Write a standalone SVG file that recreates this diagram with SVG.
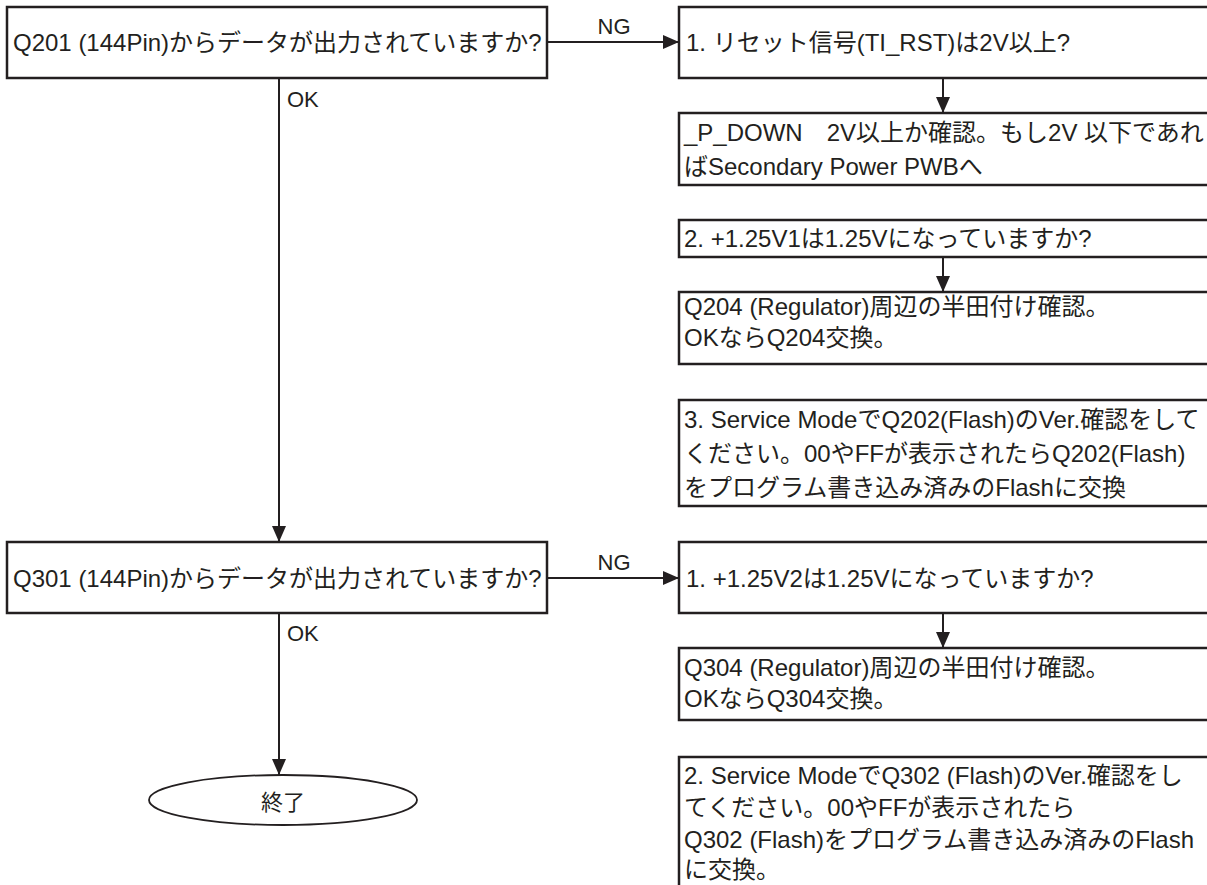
<svg xmlns="http://www.w3.org/2000/svg" width="1207" height="885" viewBox="0 0 1207 885">
<defs>
<style>
.box{fill:#fff;stroke:#231f20;stroke-width:2.5}
.conn{fill:none;stroke:#231f20;stroke-width:2}
.t{font-family:"Liberation Sans","Noto Sans CJK JP",sans-serif;font-size:24px;fill:#231f20}
.lbl{font-family:"Liberation Sans","Noto Sans CJK JP",sans-serif;font-size:22px;fill:#231f20}
.end{fill:#fff;stroke:#231f20;stroke-width:1.8}
</style>
<marker id="ah" markerUnits="userSpaceOnUse" markerWidth="17" markerHeight="15" refX="16" refY="7" orient="auto" viewBox="0 0 17 15">
<path d="M0,0 L16,7 L0,14 z" fill="#231f20"/>
</marker>
</defs>
<rect width="1207" height="885" fill="#fff"/>

<g id="connectors">
<line class="conn" x1="547" y1="42" x2="679" y2="42" marker-end="url(#ah)"/>
<line class="conn" x1="279" y1="78" x2="279" y2="542" marker-end="url(#ah)"/>
<line class="conn" x1="943" y1="78" x2="943" y2="113" marker-end="url(#ah)"/>
<line class="conn" x1="943" y1="257" x2="943" y2="292" marker-end="url(#ah)"/>
<line class="conn" x1="547" y1="578" x2="679" y2="578" marker-end="url(#ah)"/>
<line class="conn" x1="279" y1="613" x2="279" y2="775" marker-end="url(#ah)"/>
<line class="conn" x1="943" y1="613" x2="943" y2="648" marker-end="url(#ah)"/>
<text class="lbl" x="614" y="34" text-anchor="middle">NG</text>
<text class="lbl" x="287" y="107">OK</text>
<text class="lbl" x="614" y="570" text-anchor="middle">NG</text>
<text class="lbl" x="287" y="641">OK</text>
</g>

<g id="q201">
<rect class="box" x="7" y="7" width="540" height="71"/>
<text class="t" x="13" y="51">Q201 (144Pin)からデータが出力されていますか?</text>
</g>

<g id="a1">
<rect class="box" x="679" y="7" width="560" height="71"/>
<text class="t" x="686" y="51">1. リセット信号(TI_RST)は2V以上?</text>
</g>

<g id="a2">
<rect class="box" x="679" y="113" width="560" height="72"/>
<text class="t" x="684" y="141" xml:space="preserve">_P_DOWN　2V以上か確認。もし2V 以下であれ</text>
<text class="t" x="684" y="175">ばSecondary Power PWBへ</text>
</g>

<g id="a3">
<rect class="box" x="679" y="220" width="560" height="37"/>
<text class="t" x="684" y="247">2. +1.25V1は1.25Vになっていますか?</text>
</g>

<g id="a4">
<rect class="box" x="679" y="292" width="560" height="72"/>
<text class="t" x="684" y="315">Q204 (Regulator)周辺の半田付け確認。</text>
<text class="t" x="684" y="346">OKならQ204交換。</text>
</g>

<g id="a5">
<rect class="box" x="679" y="400" width="560" height="106"/>
<text class="t" x="684" y="428">3. Service ModeでQ202(Flash)のVer.確認をして</text>
<text class="t" x="684" y="462">ください。00やFFが表示されたらQ202(Flash)</text>
<text class="t" x="684" y="496">をプログラム書き込み済みのFlashに交換</text>
</g>

<g id="q301">
<rect class="box" x="7" y="542" width="540" height="71"/>
<text class="t" x="13" y="587">Q301 (144Pin)からデータが出力されていますか?</text>
</g>

<g id="b1">
<rect class="box" x="679" y="542" width="560" height="71"/>
<text class="t" x="686" y="587">1. +1.25V2は1.25Vになっていますか?</text>
</g>

<g id="b2">
<rect class="box" x="679" y="648" width="560" height="72"/>
<text class="t" x="684" y="676">Q304 (Regulator)周辺の半田付け確認。</text>
<text class="t" x="684" y="707">OKならQ304交換。</text>
</g>

<g id="b3">
<rect class="box" x="679" y="757" width="560" height="160"/>
<text class="t" x="684" y="784">2. Service ModeでQ302 (Flash)のVer.確認をし</text>
<text class="t" x="684" y="816">てください。00やFFが表示されたら</text>
<text class="t" x="684" y="848">Q302 (Flash)をプログラム書き込み済みのFlash</text>
<text class="t" x="684" y="878">に交換。</text>
</g>

<g id="end">
<ellipse class="end" cx="283" cy="800" rx="134" ry="25"/>
<text class="t" x="283" y="810" text-anchor="middle" style="font-size:22px">終了</text>
</g>
</svg>
